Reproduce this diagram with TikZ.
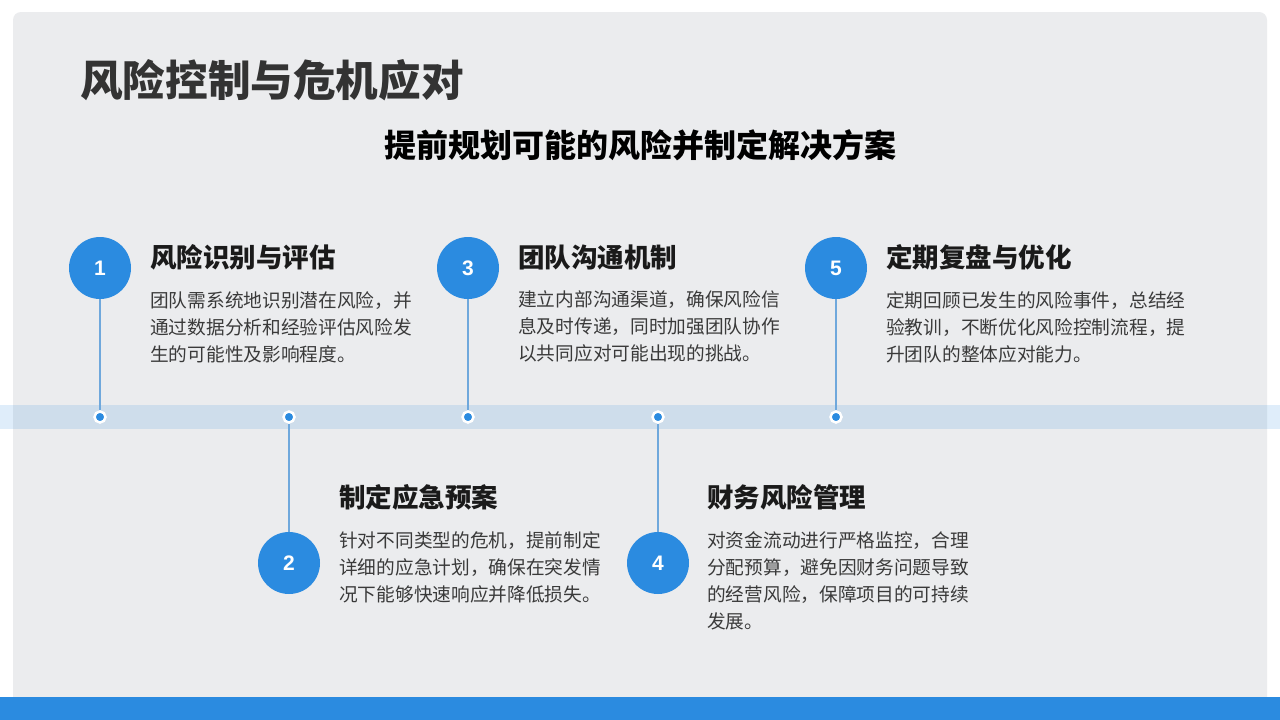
\documentclass[tikz,border=0pt]{standalone}
\usepackage{fontspec}
\setmainfont{Noto Sans CJK SC}
\newfontfamily\numfont{Liberation Sans}
\usetikzlibrary{positioning}
\definecolor{panelgray}{HTML}{EBECEE}
\definecolor{mainblue}{HTML}{2B8BE0}
\definecolor{linkblue}{HTML}{6FA8DC}
\definecolor{headblack}{HTML}{1A1A1A}
\definecolor{bodygray}{HTML}{3A3A3A}
\tikzset{
    stepnum/.style={circle,fill=mainblue,minimum size=62pt,inner sep=0pt,
        text=white,font=\numfont\bfseries\fontsize{21}{21}\selectfont},
    dotmark/.style={circle,fill=mainblue,draw=white,line width=2.5pt,minimum size=11pt,inner sep=0pt},
    link/.style={draw=linkblue,line width=1.5pt},
    headtext/.style={anchor=west,inner sep=0pt,text=headblack,font=\bfseries\fontsize{26.5}{26.5}\selectfont},
    bodytext/.style={align=left,inner sep=0pt,text=bodygray,font=\fontsize{18.7}{27}\selectfont}
}

\begin{document}
\begin{tikzpicture}[x=1pt,y=-1pt]
        \useasboundingbox (0,0) rectangle (1280,720);
        % background
        \fill[white] (0,0) rectangle (1280,720);
        \fill[panelgray,rounded corners=8pt] (13,12) rectangle (1267,712);
        \fill[mainblue,opacity=0.15] (0,405) rectangle (1280,429);
        \fill[mainblue] (0,697) rectangle (1280,720);

        % titles
        \node[anchor=west,inner sep=0pt,text=black!80,font=\bfseries\fontsize{42.6}{42.6}\selectfont] (title) at (80,80) {风险控制与危机应对};
        \node[inner sep=0pt,text=black,font=\bfseries\fontsize{32}{32}\selectfont] (subtitle) at (640,145) {提前规划可能的风险并制定解决方案};

        % timeline dots
        \node[dotmark] (dot1) at (100,417) {};
        \node[dotmark] (dot2) at (289,417) {};
        \node[dotmark] (dot3) at (468,417) {};
        \node[dotmark] (dot4) at (658,417) {};
        \node[dotmark] (dot5) at (836,417) {};

        % step circles
        \node[stepnum] (circ1) at (100,268) {1};
        \node[stepnum] (circ2) at (289,563) {2};
        \node[stepnum] (circ3) at (468,268) {3};
        \node[stepnum] (circ4) at (658,563) {4};
        \node[stepnum] (circ5) at (836,268) {5};

        \draw[link] (circ1) -- (dot1);
        \draw[link] (circ2) -- (dot2);
        \draw[link] (circ3) -- (dot3);
        \draw[link] (circ4) -- (dot4);
        \draw[link] (circ5) -- (dot5);

        % step texts
        \node[headtext] (head1) at (150,257) {风险识别与评估};
        \node[bodytext,below right=21pt and 0pt of head1.south west] (body1)
            {团队需系统地识别潜在风险，并\\通过数据分析和经验评估风险发\\生的可能性及影响程度。};
        \node[headtext] (head2) at (339,497) {制定应急预案};
        \node[bodytext,below right=21pt and 0pt of head2.south west] (body2)
            {针对不同类型的危机，提前制定\\详细的应急计划，确保在突发情\\况下能够快速响应并降低损失。};
        \node[headtext] (head3) at (518,257) {团队沟通机制};
        \node[bodytext,below right=21pt and 0pt of head3.south west] (body3)
            {建立内部沟通渠道，确保风险信\\息及时传递，同时加强团队协作\\以共同应对可能出现的挑战。};
        \node[headtext] (head4) at (707,497) {财务风险管理};
        \node[bodytext,below right=21pt and 0pt of head4.south west] (body4)
            {对资金流动进行严格监控，合理\\分配预算，避免因财务问题导致\\的经营风险，保障项目的可持续\\发展。};
        \node[headtext] (head5) at (886,257) {定期复盘与优化};
        \node[bodytext,below right=21pt and 0pt of head5.south west] (body5)
            {定期回顾已发生的风险事件，总结经\\验教训，不断优化风险控制流程，提\\升团队的整体应对能力。};
    \end{tikzpicture}
\end{document}
